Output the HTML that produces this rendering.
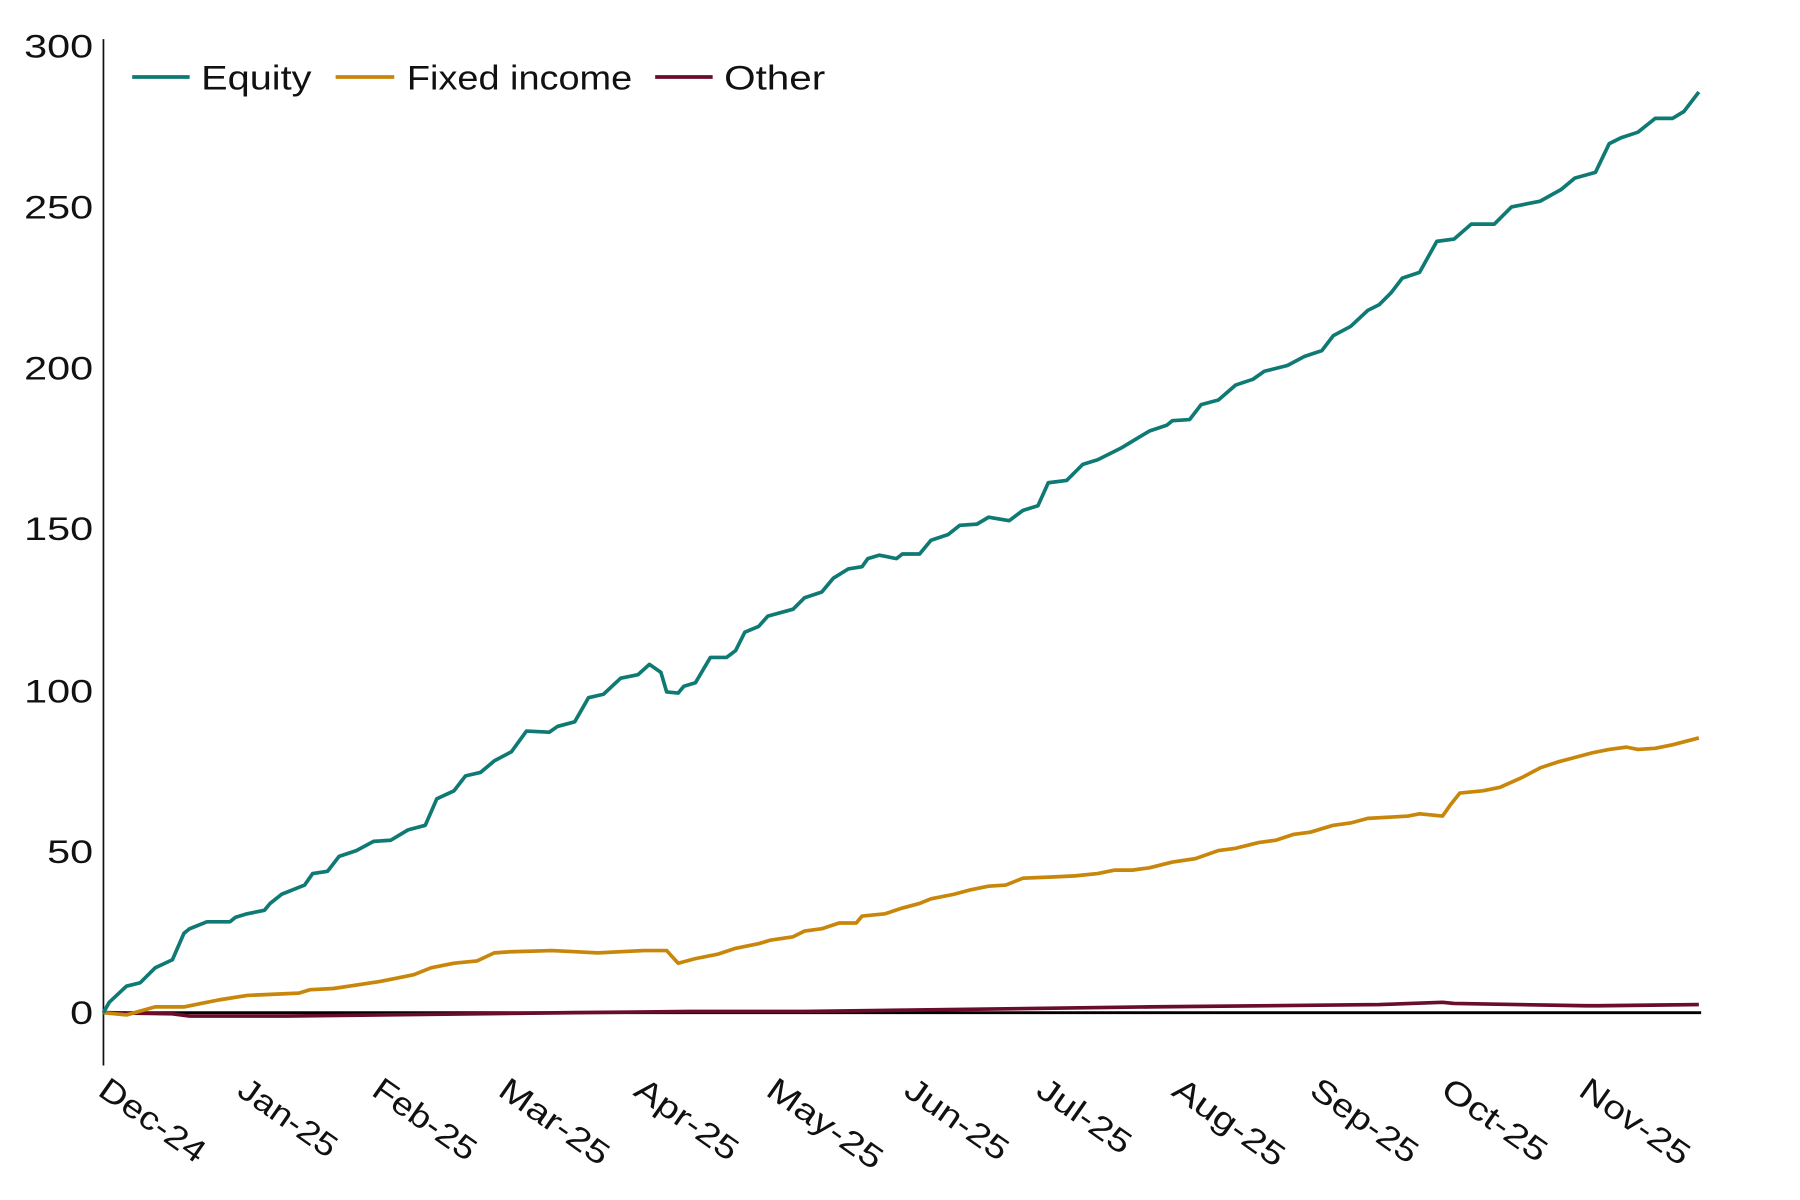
<!DOCTYPE html>
<html><head><meta charset="utf-8"><style>
html,body{margin:0;padding:0;background:#fff}
svg{display:block}
text{font-family:"Liberation Sans",sans-serif;fill:#111}
</style></head><body>
<svg width="1800" height="1200" viewBox="0 0 1566 1044" xmlns="http://www.w3.org/2000/svg">
<line x1="90" y1="34" x2="90" y2="927" stroke="#111" stroke-width="1.5"/>
<g font-size="28" text-anchor="end">
<text x="81" y="50" textLength="60" lengthAdjust="spacingAndGlyphs">300</text>
<text x="81" y="190" textLength="60" lengthAdjust="spacingAndGlyphs">250</text>
<text x="81" y="330" textLength="60" lengthAdjust="spacingAndGlyphs">200</text>
<text x="81" y="470" textLength="60" lengthAdjust="spacingAndGlyphs">150</text>
<text x="81" y="611" textLength="60" lengthAdjust="spacingAndGlyphs">100</text>
<text x="81" y="751" textLength="40" lengthAdjust="spacingAndGlyphs">50</text>
<text x="81" y="891" textLength="20" lengthAdjust="spacingAndGlyphs">0</text>
</g>
<g font-size="28">
<text transform="translate(84,952) rotate(35)" textLength="106" lengthAdjust="spacingAndGlyphs">Dec-24</text>
<text transform="translate(205,952) rotate(35)" textLength="98" lengthAdjust="spacingAndGlyphs">Jan-25</text>
<text transform="translate(322,952) rotate(35)" textLength="103" lengthAdjust="spacingAndGlyphs">Feb-25</text>
<text transform="translate(432,952) rotate(35)" textLength="110" lengthAdjust="spacingAndGlyphs">Mar-25</text>
<text transform="translate(550,952) rotate(35)" textLength="103" lengthAdjust="spacingAndGlyphs">Apr-25</text>
<text transform="translate(665,952) rotate(35)" textLength="116" lengthAdjust="spacingAndGlyphs">May-25</text>
<text transform="translate(785,952) rotate(35)" textLength="103" lengthAdjust="spacingAndGlyphs">Jun-25</text>
<text transform="translate(900,952) rotate(35)" textLength="93" lengthAdjust="spacingAndGlyphs">Jul-25</text>
<text transform="translate(1018,952) rotate(35)" textLength="112" lengthAdjust="spacingAndGlyphs">Aug-25</text>
<text transform="translate(1138,952) rotate(35)" textLength="107" lengthAdjust="spacingAndGlyphs">Sep-25</text>
<text transform="translate(1252,952) rotate(35)" textLength="105" lengthAdjust="spacingAndGlyphs">Oct-25</text>
<text transform="translate(1372,952) rotate(35)" textLength="110" lengthAdjust="spacingAndGlyphs">Nov-25</text>
</g>
<line x1="90" y1="881" x2="1480" y2="881" stroke="#000" stroke-width="2.5"/>
<g fill="none" stroke-width="3.2" stroke-linejoin="round">
<polyline stroke="#6a0c2c" points="90,881 150,882 165,884 250,884 500,881 600,880 700,880 850,878 1000,876 1200,874 1255,872 1265,873 1380,875 1390,875 1478,874"/>
<polyline stroke="#c8860a" points="90,881 110,883 135,876 150,876 160,876 175,873 190,870 215,866 260,864 270,861 290,860 310,857 330,854 345,851 360,848 375,842 395,838 415,836 430,829 445,828 480,827 500,828 520,829 560,827 580,827 590,838 605,834 625,830 640,825 660,821 670,818 690,815 700,810 715,808 730,803 745,803 750,797 770,795 785,790 800,786 810,782 830,778 845,774 860,771 875,770 890,764 915,763 935,762 955,760 970,757 985,757 1000,755 1020,750 1040,747 1060,740 1075,738 1095,733 1110,731 1125,726 1140,724 1160,718 1175,716 1190,712 1225,710 1235,708 1255,710 1262,700 1270,690 1290,688 1305,685 1325,676 1340,668 1355,663 1370,659 1385,655 1400,652 1415,650 1425,652 1440,651 1455,648 1478,642"/>
<polyline stroke="#0f7a73" points="90,881 95,872 110,858 122,855 135,842 150,835 160,812 165,808 180,802 200,802 205,798 215,795 230,792 235,786 245,778 265,770 272,760 285,758 295,745 310,740 325,732 340,731 355,722 370,718 380,695 395,688 405,675 418,672 430,662 445,654 458,636 478,637 485,632 500,628 512,607 525,604 540,590 555,587 565,578 575,585 580,602 590,603 595,597 605,594 618,572 632,572 640,566 648,550 660,545 668,536 690,530 700,520 715,515 725,503 738,495 750,493 755,486 765,483 780,486 785,482 800,482 810,470 825,465 835,457 850,456 860,450 878,453 890,444 903,440 912,420 928,418 942,404 955,400 975,390 985,384 1000,375 1015,370 1020,366 1035,365 1045,352 1060,348 1075,335 1090,330 1100,323 1120,318 1135,310 1150,305 1160,292 1175,284 1190,270 1200,265 1210,255 1220,242 1235,237 1250,210 1265,208 1280,195 1300,195 1315,180 1340,175 1358,165 1370,155 1388,150 1400,125 1410,120 1425,115 1440,103 1455,103 1465,97 1478,80"/>
</g>
<g stroke-width="3.2">
<line x1="115" y1="67" x2="165" y2="67" stroke="#0f7a73"/>
<line x1="292" y1="67" x2="343" y2="67" stroke="#c8860a"/>
<line x1="570" y1="67" x2="620" y2="67" stroke="#6a0c2c"/>
</g>
<g font-size="30">
<text x="175" y="78" textLength="96" lengthAdjust="spacingAndGlyphs">Equity</text>
<text x="354" y="78" textLength="196" lengthAdjust="spacingAndGlyphs">Fixed income</text>
<text x="630" y="78" textLength="88" lengthAdjust="spacingAndGlyphs">Other</text>
</g>
</svg>
</body></html>
